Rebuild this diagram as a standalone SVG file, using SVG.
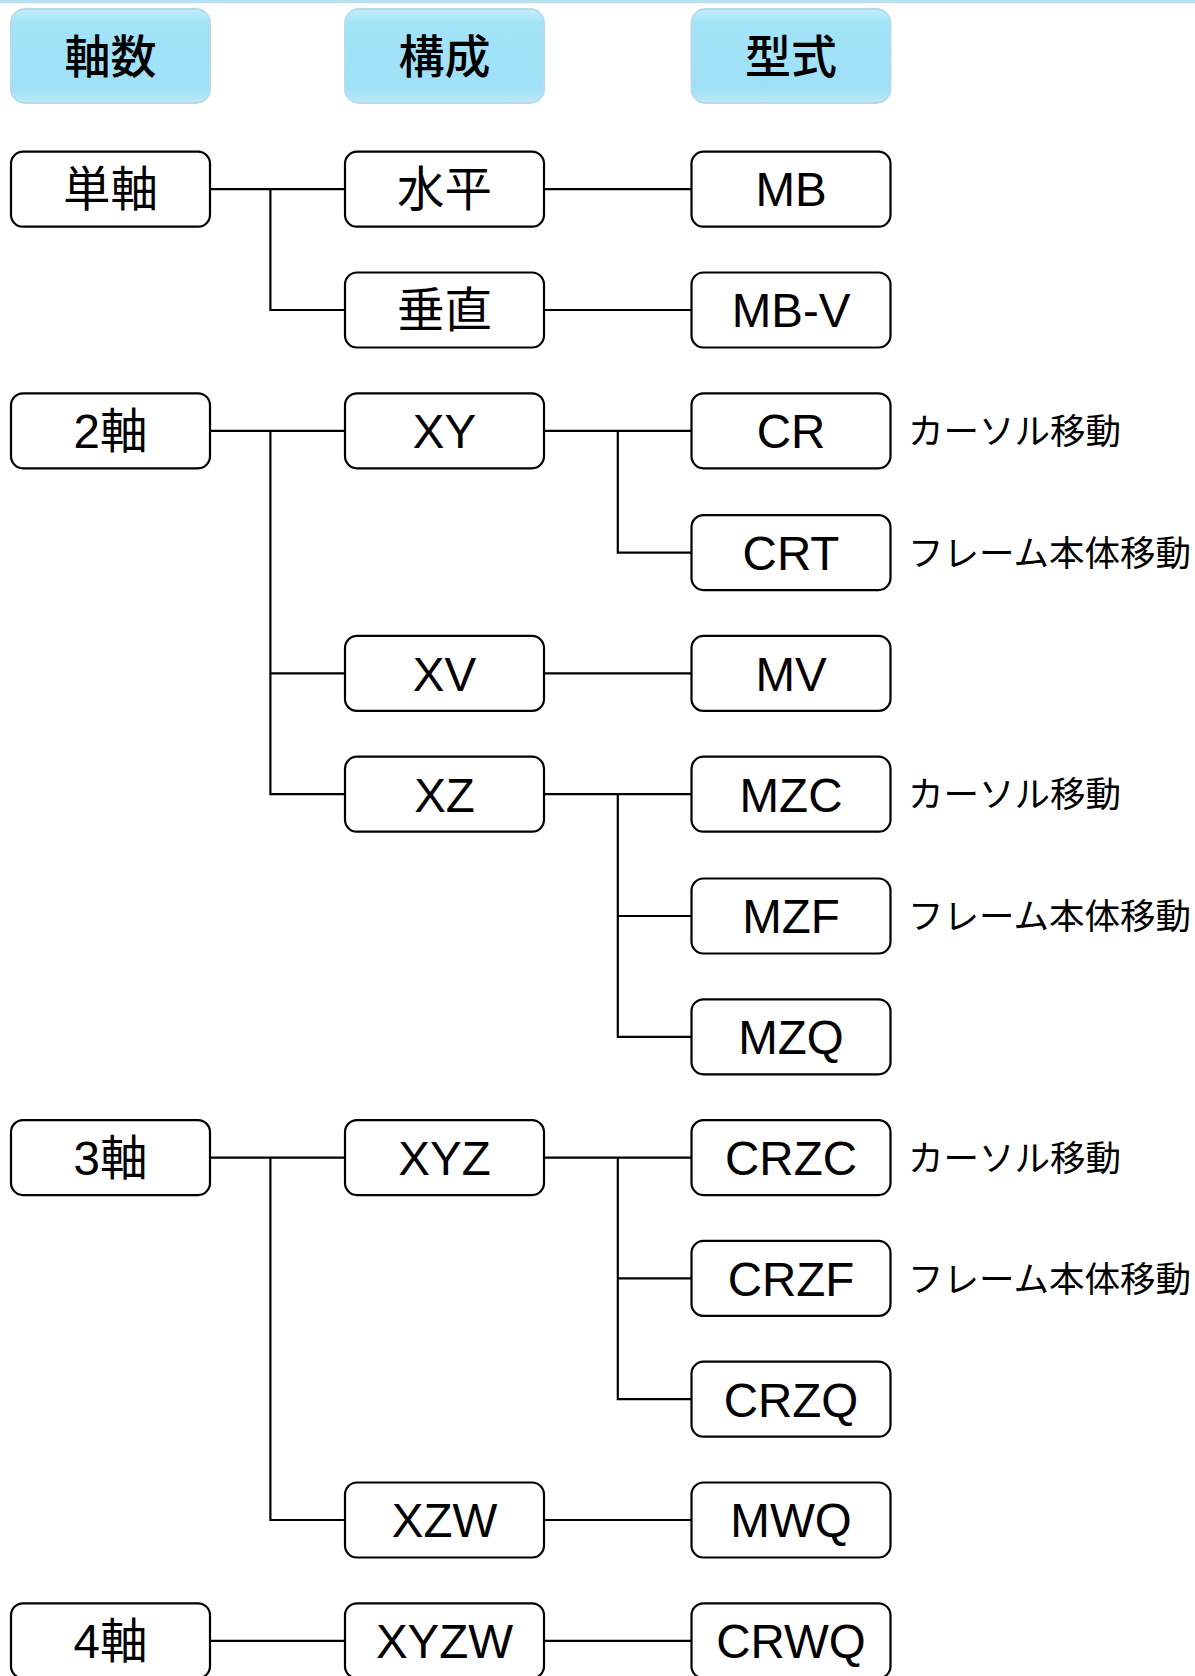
<svg xmlns="http://www.w3.org/2000/svg" width="1195" height="1676" viewBox="0 0 1195 1676">
<defs>
<linearGradient id="hg" x1="0" y1="0" x2="0" y2="1">
<stop offset="0" stop-color="#c4eefb"/>
<stop offset="0.15" stop-color="#a3e3f8"/>
<stop offset="0.85" stop-color="#9fe0f6"/>
<stop offset="1" stop-color="#bfe9f6"/>
</linearGradient>
<style>
.hdr{fill:url(#hg);stroke:#b5dcea;stroke-width:2}
.box{fill:#fff;stroke:#000;stroke-width:2.2}
.t{font-family:"Liberation Sans","Noto Sans CJK JP",sans-serif;font-size:47.5px;text-anchor:middle;fill:#000}
.h{font-family:"Noto Sans CJK JP",sans-serif;font-size:46px;font-weight:500;text-anchor:middle;fill:#000}
.l{font-family:"Noto Sans CJK JP",sans-serif;font-size:35.5px;fill:#000}
.c{fill:none;stroke:#000;stroke-width:2.2}
</style>
</defs>
<rect x="0" y="0" width="1195" height="3" fill="#b7e1ec"/>
<g id="headers">
<g id="h1"><rect class="hdr" x="11" y="9" width="199" height="94" rx="14"/><text class="h" x="110.5" y="73">軸数</text></g>
<g id="h2"><rect class="hdr" x="345" y="9" width="199" height="94" rx="14"/><text class="h" x="444.5" y="73">構成</text></g>
<g id="h3"><rect class="hdr" x="691.5" y="9" width="199" height="94" rx="14"/><text class="h" x="791" y="73">型式</text></g>
</g>
<g id="connectors">
<path class="c" d="M209.5 189.2H345M270.4 189.2V310H345M544 189.2H691.5M544 310H691.5"/>
<path class="c" d="M209.5 430.8H345M270.4 430.8V794.2H345M270.4 673.4H345M544 430.8H691.5M617.8 430.8V552.6H691.5M544 673.4H691.5M544 794.2H691.5M617.8 794.2V1036.8H691.5M617.8 916H691.5"/>
<path class="c" d="M209.5 1157.6H345M270.4 1157.6V1520H345M544 1157.6H691.5M617.8 1157.6V1399.2H691.5M617.8 1278.4H691.5M544 1520H691.5"/>
<path class="c" d="M209.5 1640.8H345M544 1640.8H691.5"/>
</g>
<g id="n-tanjiku"><rect class="box" x="11" y="151.7" width="199" height="75" rx="12"/><text class="t" x="110.5" y="206">単軸</text></g>
<g id="n-suihei"><rect class="box" x="345" y="151.7" width="199" height="75" rx="12"/><text class="t" x="444.5" y="206">水平</text></g>
<g id="n-mb"><rect class="box" x="691.5" y="151.7" width="199" height="75" rx="12"/><text class="t" x="791" y="206">MB</text></g>
<g id="n-suichoku"><rect class="box" x="345" y="272.5" width="199" height="75" rx="12"/><text class="t" x="444.5" y="327">垂直</text></g>
<g id="n-mbv"><rect class="box" x="691.5" y="272.5" width="199" height="75" rx="12"/><text class="t" x="791" y="327">MB-V</text></g>
<g id="n-2jiku"><rect class="box" x="11" y="393.3" width="199" height="75" rx="12"/><text class="t" x="110.5" y="448">2軸</text></g>
<g id="n-xy"><rect class="box" x="345" y="393.3" width="199" height="75" rx="12"/><text class="t" x="444.5" y="448">XY</text></g>
<g id="n-cr"><rect class="box" x="691.5" y="393.3" width="199" height="75" rx="12"/><text class="t" x="791" y="448">CR</text></g>
<g id="n-crt"><rect class="box" x="691.5" y="515.1" width="199" height="75" rx="12"/><text class="t" x="791" y="569.5">CRT</text></g>
<g id="n-xv"><rect class="box" x="345" y="635.9" width="199" height="75" rx="12"/><text class="t" x="444.5" y="690.5">XV</text></g>
<g id="n-mv"><rect class="box" x="691.5" y="635.9" width="199" height="75" rx="12"/><text class="t" x="791" y="690.5">MV</text></g>
<g id="n-xz"><rect class="box" x="345" y="756.7" width="199" height="75" rx="12"/><text class="t" x="444.5" y="811.5">XZ</text></g>
<g id="n-mzc"><rect class="box" x="691.5" y="756.7" width="199" height="75" rx="12"/><text class="t" x="791" y="811.5">MZC</text></g>
<g id="n-mzf"><rect class="box" x="691.5" y="878.5" width="199" height="75" rx="12"/><text class="t" x="791" y="933">MZF</text></g>
<g id="n-mzq"><rect class="box" x="691.5" y="999.3" width="199" height="75" rx="12"/><text class="t" x="791" y="1054">MZQ</text></g>
<g id="n-3jiku"><rect class="box" x="11" y="1120.1" width="199" height="75" rx="12"/><text class="t" x="110.5" y="1174.5">3軸</text></g>
<g id="n-xyz"><rect class="box" x="345" y="1120.1" width="199" height="75" rx="12"/><text class="t" x="444.5" y="1174.5">XYZ</text></g>
<g id="n-crzc"><rect class="box" x="691.5" y="1120.1" width="199" height="75" rx="12"/><text class="t" x="791" y="1174.5">CRZC</text></g>
<g id="n-crzf"><rect class="box" x="691.5" y="1240.9" width="199" height="75" rx="12"/><text class="t" x="791" y="1295.5">CRZF</text></g>
<g id="n-crzq"><rect class="box" x="691.5" y="1361.7" width="199" height="75" rx="12"/><text class="t" x="791" y="1416.5">CRZQ</text></g>
<g id="n-xzw"><rect class="box" x="345" y="1482.5" width="199" height="75" rx="12"/><text class="t" x="444.5" y="1537">XZW</text></g>
<g id="n-mwq"><rect class="box" x="691.5" y="1482.5" width="199" height="75" rx="12"/><text class="t" x="791" y="1537">MWQ</text></g>
<g id="n-4jiku"><rect class="box" x="11" y="1603.3" width="199" height="75" rx="12"/><text class="t" x="110.5" y="1658">4軸</text></g>
<g id="n-xyzw"><rect class="box" x="345" y="1603.3" width="199" height="75" rx="12"/><text class="t" x="444.5" y="1658">XYZW</text></g>
<g id="n-crwq"><rect class="box" x="691.5" y="1603.3" width="199" height="75" rx="12"/><text class="t" x="791" y="1658">CRWQ</text></g>
<g id="labels">
<text class="l" x="908" y="444">カーソル移動</text>
<text class="l" x="908" y="566">フレーム本体移動</text>
<text class="l" x="908" y="807">カーソル移動</text>
<text class="l" x="908" y="929">フレーム本体移動</text>
<text class="l" x="908" y="1171">カーソル移動</text>
<text class="l" x="908" y="1292">フレーム本体移動</text>
</g>
</svg>
